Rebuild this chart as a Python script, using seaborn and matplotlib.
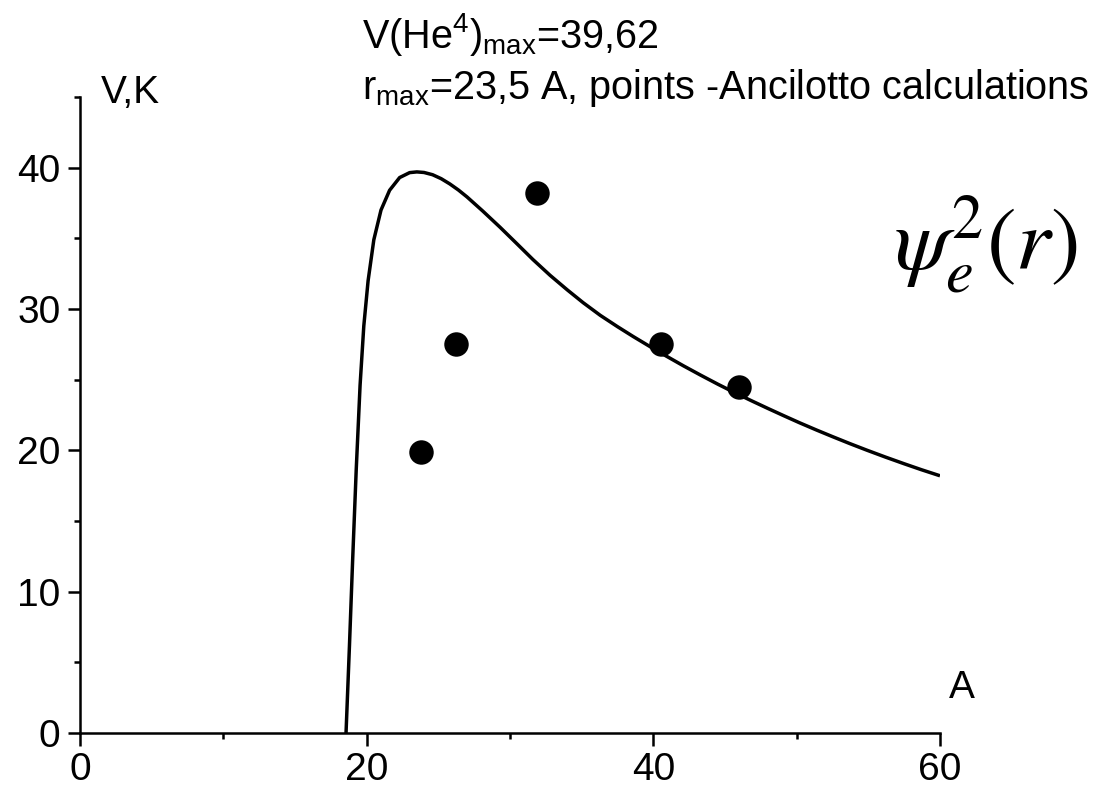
import matplotlib
matplotlib.use("Agg")
import matplotlib.pyplot as plt
import seaborn as sns
import pandas as pd
from matplotlib.ticker import MultipleLocator

# Data
curve_r = [18.56, 18.8, 19.02, 19.27, 19.54, 19.8, 20.1, 20.5, 21.0, 21.6, 22.3, 23.0, 23.5,
           24.0, 24.6, 25.2, 25.8, 26.4, 27.0, 28.1, 29.3, 30.5, 31.6, 32.8, 34.0, 35.1,
           36.3, 37.5, 38.6, 39.8, 40.9, 42.1, 43.3, 44.5, 45.6, 46.8, 48.0, 49.1, 50.2,
           51.4, 52.5, 53.7, 54.9, 56.2, 57.5, 58.7, 60.0]
curve_v = [0.0, 6.2, 12.2, 18.6, 24.6, 28.8, 32.0, 34.9, 37.0, 38.4, 39.3, 39.65, 39.7,
           39.66, 39.5, 39.22, 38.85, 38.42, 37.93, 36.93, 35.79, 34.6, 33.5, 32.38, 31.35, 30.45,
           29.55, 28.75, 28.05, 27.32, 26.67, 25.98, 25.32, 24.68, 24.12, 23.53, 22.96, 22.45, 21.95,
           21.43, 20.97, 20.48, 20.01, 19.52, 19.05, 18.63, 18.2]

pts_r = [23.8, 26.2, 31.9, 40.5, 46.0]
pts_v = [19.9, 27.5, 38.2, 27.5, 24.5]

xticks = [0, 20, 40, 60]
yticks = [0, 10, 20, 30, 40]

sns.set_theme(style="ticks")
plt.rcParams['font.family'] = ['Liberation Sans', 'DejaVu Sans']
plt.rcParams['mathtext.fontset'] = 'custom'
plt.rcParams['mathtext.rm'] = 'Liberation Sans'
plt.rcParams['mathtext.it'] = 'Liberation Sans:italic'
for k in ['text.color', 'axes.labelcolor', 'xtick.color', 'ytick.color', 'axes.edgecolor']:
    plt.rcParams[k] = 'black'

fig = plt.figure(figsize=(10.95, 7.88), dpi=100)
ax = fig.add_axes([80/1095, 1 - 733/788, (940-80)/1095, (733-97)/788])

curve_df = pd.DataFrame({"r": curve_r, "V": curve_v})
pts_df = pd.DataFrame({"r": pts_r, "V": pts_v})

sns.lineplot(data=curve_df, x="r", y="V", ax=ax, color="black", linewidth=2.5,
             sort=False, estimator=None, solid_joinstyle="round", solid_capstyle="butt")
sns.scatterplot(data=pts_df, x="r", y="V", ax=ax, color="black", s=310,
                edgecolor="black", linewidth=0, zorder=5)

ax.set_xlim(0, 60)
ax.set_ylim(0, 45)
ax.set_xticks(xticks)
ax.set_yticks(yticks)
ax.xaxis.set_minor_locator(MultipleLocator(10))
ax.yaxis.set_minor_locator(MultipleLocator(5))
ax.tick_params(which="major", direction="out", length=9, width=1.8, labelsize=28,
               colors="black", pad=5)
ax.tick_params(which="minor", direction="out", length=4.5, width=1.8)
ax.set_xlabel("")
ax.set_ylabel("")
for s in ["top", "right"]:
    ax.spines[s].set_visible(False)
for s in ["left", "bottom"]:
    ax.spines[s].set_linewidth(1.8)
    ax.spines[s].set_color("black")

fig.text(101/1095, 1 - 93/788, "V,K", fontsize=28, ha="left", va="center")
fig.text(962/1095, 1 - 688/788, "A", fontsize=28, ha="center", va="center")
fig.text(362/1095, 1 - 35/788, r"V(He$^{4}$)$_{\rm max}$=39,62", fontsize=28.5,
         ha="left", va="center")
fig.text(362/1095, 1 - 88/788, r"r$_{\rm max}$=23,5 A, points -Ancilotto calculations",
         fontsize=28.5, ha="left", va="center")
fig.text(986/1095, 1 - 245/788, r"$\psi_e^2(r)$", fontsize=64, ha="center",
         va="center", math_fontfamily="stix")

fig.savefig("out.png", dpi=100)
